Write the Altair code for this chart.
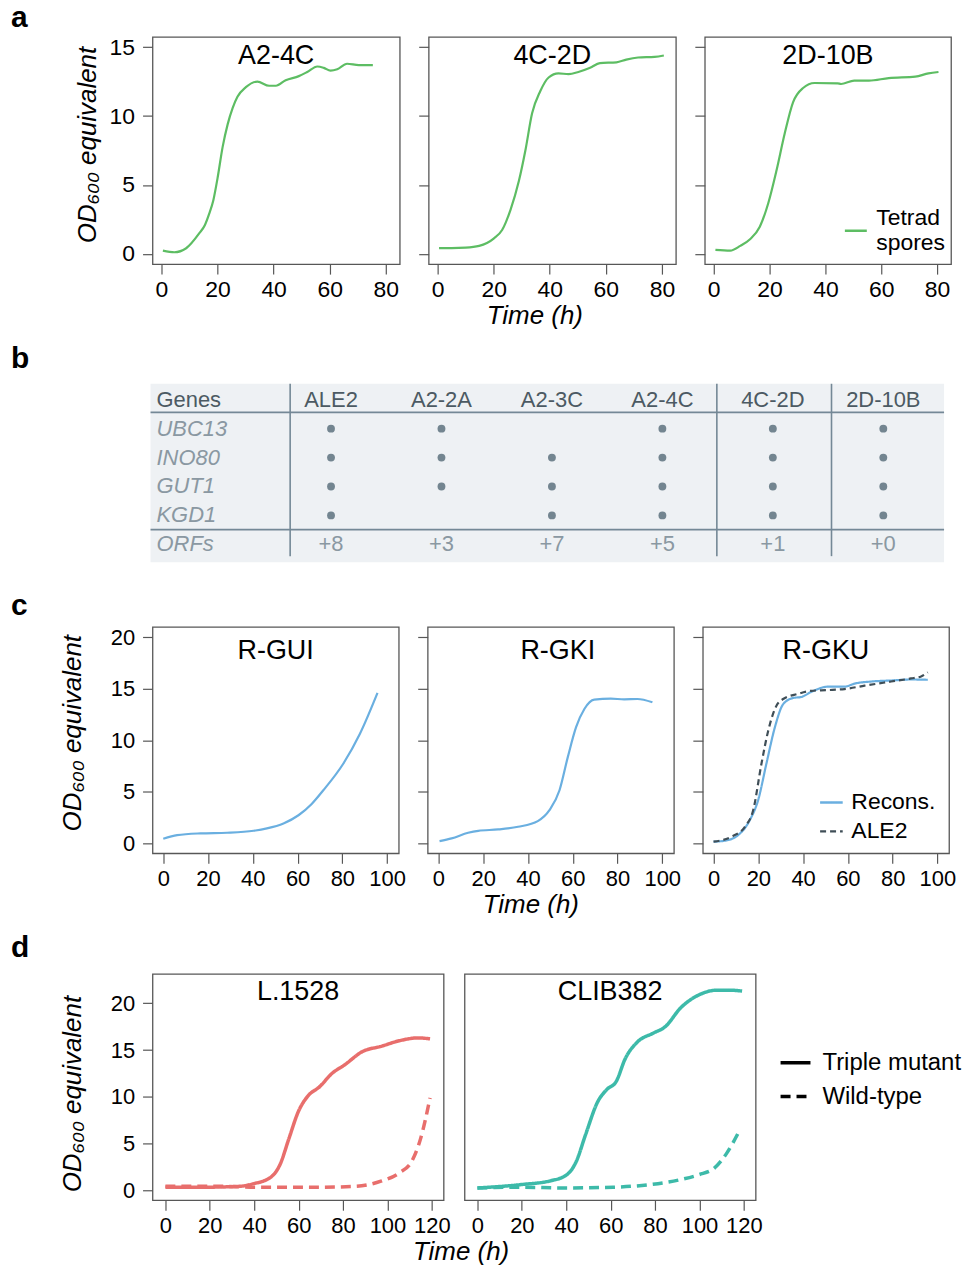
import altair as alt
import pandas as pd

FONT = "Liberation Sans"
GREEN = "#5dbd63"
BLUE = "#6aafe0"
RED = "#e86e6c"
TEAL = "#3dbaa9"
ALE_DARK = "#3f4e57"
FRAME = "#575757"
TAB_BG = "#eef1f4"
TAB_LINE = "#748896"
TAB_HEAD = "#4c5a63"
TAB_GENE = "#8a98a2"
TAB_DOT = "#738590"
YTITLE = "OD\u2086\u2080\u2080 equivalent"
XTITLE = "Time (h)"

# ---------------- panel a : tetrad spores ----------------
a_names = ["A2-4C", "4C-2D", "2D-10B"]
a1_t = [0.5, 4.6, 8.8, 13.5, 15.5, 17.0, 18.5, 20.0, 21.8, 23.6, 25.4, 27.1, 30.1, 34.2,
        38.4, 40.8, 44.3, 49.0, 52.0, 55.6, 57.9, 60.3, 62.7, 66.2, 70.4, 75.4]
a1_od = [0.24, 0.12, 0.41, 1.5, 2.1, 2.9, 3.9, 5.5, 7.75, 9.4, 10.6, 11.4, 12.1, 12.5,
         12.2, 12.2, 12.6, 12.9, 13.2, 13.6, 13.5, 13.3, 13.4, 13.8, 13.7, 13.7]
a2_t = [0.5, 5, 10, 14.8, 20.1, 23, 26, 29, 31.3, 33.7, 36.6, 39.6, 43.1, 46.7, 50.2,
        54.4, 57.9, 63.8, 67.3, 71.5, 77.4, 80.7]
a2_od = [0.42, 0.42, 0.45, 0.58, 1.13, 1.73, 3.2, 5.3, 7.5, 10.2, 11.8, 12.8, 13.1, 13.05,
         13.2, 13.5, 13.85, 13.9, 14.1, 14.25, 14.3, 14.4]
a3_t = [0.6, 5.9, 9.5, 13, 16.5, 19.5, 22.5, 25.4, 28.4, 32, 36.1, 44.4, 45.6, 50.3, 55.6,
        62.7, 72.2, 76.9, 80.5]
a3_od = [0.29, 0.24, 0.58, 1.06, 1.97, 3.66, 6.07, 8.72, 11.0, 12.04, 12.4, 12.38, 12.33,
         12.57, 12.57, 12.76, 12.86, 13.1, 13.2]
a_series = ["Tetrad spores"]

# ---------------- panel b : table ----------------
tab_cols = ["ALE2", "A2-2A", "A2-3C", "A2-4C", "4C-2D", "2D-10B"]
tab_genes = ["UBC13", "INO80", "GUT1", "KGD1"]
tab_has_UBC13 = [1, 1, 0, 1, 1, 1]
tab_has_INO80 = [1, 1, 1, 1, 1, 1]
tab_has_GUT1 = [1, 1, 1, 1, 1, 1]
tab_has_KGD1 = [1, 0, 1, 1, 1, 1]
tab_orfs = ["+8", "+3", "+7", "+5", "+1", "+0"]

# ---------------- panel c : reconstructed strains ----------------
c_names = ["R-GUI", "R-GKI", "R-GKU"]
c1_t = [0, 6.2, 16.6, 28.5, 40.4, 46.3, 53.7, 60.4, 66.3, 71.5, 80.4, 87.8, 95.7]
c1_od = [0.42, 0.77, 0.94, 1.0, 1.19, 1.42, 1.9, 2.7, 3.8, 5.13, 7.71, 10.6, 14.6]
c2_t = [0.5, 5.9, 13.3, 17.8, 26.7, 35.6, 44.4, 49.6, 54.1, 57.8, 61.5, 65.2, 69.6, 77,
        83, 88.9, 95.6]
c2_od = [0.19, 0.45, 1.0, 1.19, 1.32, 1.58, 2.13, 3.19, 5.13, 8.35, 11.26, 13.03, 13.94,
         14.03, 13.97, 14.0, 13.68]
c3_recons_t = [0, 5.1, 11, 16.2, 19.9, 23.6, 27.4, 31.1, 35.5, 39.2, 43.7, 51.1, 58.5, 63,
               70.4, 79.3, 88.2, 95.7]
c3_recons_od = [0.13, 0.23, 0.77, 2.23, 4.16, 7.71, 11.26, 13.5, 14.1, 14.2, 14.7, 15.2,
                15.2, 15.5, 15.7, 15.8, 15.9, 15.87]
c3_ale2_t = [0, 8, 14, 17.7, 21.4, 24.4, 28.1, 31.1, 37.7, 43.7, 51.1, 58.5, 67.5, 79.3,
             88.2, 92.7, 95.7]
c3_ale2_od = [0.13, 0.61, 1.58, 3.19, 7.71, 10.9, 13.35, 14.0, 14.5, 14.8, 14.87, 14.97,
              15.3, 15.7, 16.0, 16.2, 16.6]
c_series = ["Recons.", "ALE2"]

# ---------------- panel d : other backgrounds ----------------
d_names = ["L.1528", "CLIB382"]
d_types = ["Triple mutant", "Wild-type"]
d1_triple_t = [0, 17, 33.7, 39.2, 47.4, 51.6, 55.7, 59.9, 64, 69.5, 75, 80.6, 88.8, 97.1,
               105.4, 113.7, 119.2]
d1_triple_od = [0.36, 0.36, 0.46, 0.71, 1.42, 2.77, 5.6, 8.45, 10.05, 11.1, 12.5, 13.4,
                14.85, 15.4, 16.0, 16.3, 16.2]
d1_wild_t = [0, 22.6, 41.9, 69.5, 86, 97.1, 105.4, 110.9, 115, 119.2]
d1_wild_od = [0.46, 0.46, 0.36, 0.36, 0.46, 1.0, 1.9, 3.1, 5.6, 9.9]
d2_triple_t = [0, 19.6, 33.4, 40.3, 44.5, 48.7, 54.2, 58.3, 62.5, 66.6, 72.2, 79.1, 84.6,
               91.5, 99.8, 108.1, 113.6, 119.2]
d2_triple_od = [0.28, 0.64, 1.07, 1.7, 3.1, 5.97, 9.5, 10.8, 11.65, 14.1, 15.9, 16.8, 17.5,
                19.5, 20.9, 21.4, 21.4, 21.3]
d2_wild_t = [0, 19.6, 39, 61.1, 77.7, 91.5, 99.8, 106.7, 112.3, 117.8]
d2_wild_od = [0.28, 0.36, 0.28, 0.36, 0.64, 1.17, 1.7, 2.4, 4.0, 6.3]


# ---------------- helpers ----------------
def curve(t, od, series=None, key="series"):
    d = pd.DataFrame({"t": t, "od": od})
    if series is not None:
        d[key] = series
    return d


def sc(dom):
    return alt.Scale(domain=dom, nice=False, zero=False)


def xenc(dom, vals, pad, fs, tpos=None):
    kw = dict(values=vals, labelPadding=pad, labelFontSize=fs)
    if tpos is not None:
        kw.update(titleX=tpos[0], titleY=tpos[1], titleAlign="center",
                  titleBaseline="alphabetic", titleFontSize=26)
        return alt.X("t:Q", scale=sc(dom), axis=alt.Axis(**kw), title=XTITLE)
    return alt.X("t:Q", scale=sc(dom), axis=alt.Axis(**kw), title=None)


def yenc(dom, vals, mode, fs, tpos=None):
    if mode == "full":
        ax = alt.Axis(values=vals, labelPadding=8, labelFontSize=fs, titleX=tpos[0],
                      titleY=tpos[1], titleAlign="center", titleBaseline="alphabetic",
                      titleAngle=270, titleFontSize=26)
        return alt.Y("od:Q", scale=sc(dom), axis=ax, title=YTITLE)
    if mode == "ticks":
        return alt.Y("od:Q", scale=sc(dom), axis=alt.Axis(values=vals, labels=False), title=None)
    return alt.Y("od:Q", scale=sc(dom), axis=None)


def name_layer(name, x, y, fs=27):
    return alt.Chart(pd.DataFrame({"name": [name]})).mark_text(
        font=FONT, fontSize=fs, color="black", align="center", baseline="alphabetic"
    ).encode(text="name:N", x=alt.value(x), y=alt.value(y))


def letter_layer(letter, y):
    return alt.Chart(pd.DataFrame({"letter": [letter]})).mark_text(
        font=FONT, fontSize=30, fontWeight="bold", color="black", align="left",
        baseline="alphabetic"
    ).encode(text="letter:N", x=alt.value(-142), y=alt.value(y))


def legend(x, y, size, sw, fs, offset, rowpad=5, **extra):
    kw = dict(orient="none", legendX=x, legendY=y, title=None, symbolType="stroke",
              symbolSize=size, symbolStrokeWidth=sw, labelFont=FONT, labelFontSize=fs,
              labelColor="black", labelOffset=offset, rowPadding=rowpad, padding=0,
              labelLimit=400)
    kw.update(extra)
    return alt.Legend(**kw)


# ---------------- row a ----------------
A_W, A_H = 248, 228
A_XDOM, A_YDOM = [-3.2, 85.0], [-0.745, 15.75]
A_XT, A_YT = [0, 20, 40, 60, 80], [0, 5, 10, 15]

a1 = alt.layer(
    alt.Chart(curve(a1_t, a1_od)).mark_line(color=GREEN, strokeWidth=2.2, interpolate="monotone").encode(
        x=xenc(A_XDOM, A_XT, 4, 23), y=yenc(A_YDOM, A_YT, "full", 23, (-57, 108))),
    name_layer(a_names[0], A_W / 2, 27),
    letter_layer("a", -10),
).properties(width=A_W, height=A_H)

a2 = alt.layer(
    alt.Chart(curve(a2_t, a2_od)).mark_line(color=GREEN, strokeWidth=2.2, interpolate="monotone").encode(
        x=xenc(A_XDOM, A_XT, 4, 23, (106, 60)), y=yenc(A_YDOM, A_YT, "ticks", 23)),
    name_layer(a_names[1], A_W / 2, 27),
).properties(width=A_W, height=A_H)

a3 = alt.layer(
    alt.Chart(curve(a3_t, a3_od, a_series[0])).mark_line(strokeWidth=2.2, interpolate="monotone").encode(
        x=xenc(A_XDOM, A_XT, 4, 23), y=yenc(A_YDOM, A_YT, "ticks", 23),
        color=alt.Color("series:N", scale=alt.Scale(domain=a_series, range=[GREEN]),
                        legend=legend(139, 182, 484, 2.5, 23, 8,
                                      labelExpr="['Tetrad', 'spores']",
                                      labelBaseline="line-bottom"))),
    name_layer(a_names[2], 247 / 2, 27),
).properties(width=247, height=A_H)

# ---------------- row b : table ----------------
gene_has = [tab_has_UBC13, tab_has_INO80, tab_has_GUT1, tab_has_KGD1]
head_df = pd.DataFrame({"label": tab_cols, "col": list(range(1, len(tab_cols) + 1)), "row": 0})
genes_df = pd.DataFrame({"label": tab_genes + ["ORFs"], "col": -0.58,
                         "row": list(range(1, len(tab_genes) + 2))})
genes_head_df = pd.DataFrame({"label": ["Genes"], "col": [-0.58], "row": [0]})
dots_rows = []
for gi, has in enumerate(gene_has):
    for ci, h in enumerate(has):
        if h:
            dots_rows.append({"col": ci + 1, "row": gi + 1})
dots_df = pd.DataFrame(dots_rows)
orf_df = pd.DataFrame({"label": tab_orfs, "col": list(range(1, len(tab_orfs) + 1)),
                       "row": len(tab_genes) + 1})
TX = alt.Scale(domain=[-0.634, 6.55], range=[-2, 794], nice=False, zero=False)
TY = alt.Scale(domain=[-0.552, 5.62], range=[0, 179], nice=False, zero=False)
bg_df = pd.DataFrame({"x": [-0.634], "x2": [6.55], "y": [-0.552], "y2": [5.62]})
hline_df = pd.DataFrame({"y": [0.438, 4.493], "x": -0.634, "x2": 6.55})
vline_df = pd.DataFrame({"x": [0.63, 4.493, 5.531], "y": -0.552, "y2": 5.41})
TFS = 22

tab_bg = alt.Chart(bg_df).mark_rect(color=TAB_BG).encode(
    x=alt.X("x:Q", scale=TX, axis=None), x2="x2:Q",
    y=alt.Y("y:Q", scale=TY, axis=None), y2="y2:Q")
tab_h = alt.Chart(hline_df).mark_rule(color=TAB_LINE, strokeWidth=1.6).encode(
    x=alt.X("x:Q", scale=TX, axis=None), x2="x2:Q", y=alt.Y("y:Q", scale=TY, axis=None))
tab_v = alt.Chart(vline_df).mark_rule(color=TAB_LINE, strokeWidth=1.6).encode(
    x=alt.X("x:Q", scale=TX, axis=None), y=alt.Y("y:Q", scale=TY, axis=None), y2="y2:Q")
tab_head = alt.Chart(head_df).mark_text(font=FONT, fontSize=TFS, color=TAB_HEAD, align="center",
                                        baseline="middle").encode(
    x=alt.X("col:Q", scale=TX, axis=None), y=alt.Y("row:Q", scale=TY, axis=None), text="label:N")
tab_ghead = alt.Chart(genes_head_df).mark_text(font=FONT, fontSize=TFS, color=TAB_HEAD, align="left",
                                               baseline="middle").encode(
    x=alt.X("col:Q", scale=TX, axis=None), y=alt.Y("row:Q", scale=TY, axis=None), text="label:N")
tab_genes_t = alt.Chart(genes_df).mark_text(font=FONT, fontSize=TFS, color=TAB_GENE, align="left",
                                            baseline="middle", fontStyle="italic").encode(
    x=alt.X("col:Q", scale=TX, axis=None), y=alt.Y("row:Q", scale=TY, axis=None), text="label:N")
tab_dots = alt.Chart(dots_df).mark_circle(color=TAB_DOT, size=62, opacity=1).encode(
    x=alt.X("col:Q", scale=TX, axis=None), y=alt.Y("row:Q", scale=TY, axis=None))
tab_orf = alt.Chart(orf_df).mark_text(font=FONT, fontSize=TFS, color=TAB_GENE, align="center",
                                      baseline="middle").encode(
    x=alt.X("col:Q", scale=TX, axis=None), y=alt.Y("row:Q", scale=TY, axis=None), text="label:N")

table = alt.layer(tab_bg, tab_h, tab_v, tab_head, tab_ghead, tab_genes_t, tab_dots, tab_orf,
                  letter_layer("b", -16)).properties(
    width=794, height=193, view=alt.ViewBackground(stroke="transparent", strokeOpacity=0))

# ---------------- row c ----------------
C_W, C_H = 247, 227
C_XDOM, C_YDOM = [-4.8, 105.2], [-1.0, 21.0]
C_XT, C_YT = [0, 20, 40, 60, 80, 100], [0, 5, 10, 15, 20]

c1 = alt.layer(
    alt.Chart(curve(c1_t, c1_od)).mark_line(color=BLUE, strokeWidth=2.2, interpolate="monotone").encode(
        x=xenc(C_XDOM, C_XT, 5, 22), y=yenc(C_YDOM, C_YT, "full", 22, (-72, 106))),
    name_layer(c_names[0], C_W / 2, 32),
    letter_layer("c", -12),
).properties(width=C_W, height=C_H)

c2 = alt.layer(
    alt.Chart(curve(c2_t, c2_od)).mark_line(color=BLUE, strokeWidth=2.2, interpolate="monotone").encode(
        x=xenc(C_XDOM, C_XT, 5, 22, (103, 59)), y=yenc(C_YDOM, C_YT, "ticks", 22)),
    name_layer(c_names[1], C_W / 2 + 7, 32),
).properties(width=C_W, height=C_H)

c3_df = pd.concat([curve(c3_recons_t, c3_recons_od, c_series[0]),
                   curve(c3_ale2_t, c3_ale2_od, c_series[1])])
c_leg = legend(116, 163, 515, 2.4, 23, 7, rowpad=4)
c3 = alt.layer(
    alt.Chart(c3_df).mark_line(strokeWidth=2.2, interpolate="monotone").encode(
        x=xenc(C_XDOM, C_XT, 5, 22), y=yenc(C_YDOM, C_YT, "ticks", 22),
        color=alt.Color("series:N", scale=alt.Scale(domain=c_series, range=[BLUE, ALE_DARK]),
                        legend=c_leg),
        strokeDash=alt.StrokeDash("series:N", scale=alt.Scale(domain=c_series, range=[[1, 0], [6, 4]]),
                                  legend=c_leg)),
    name_layer(c_names[2], C_W / 2, 32),
).properties(width=C_W, height=C_H)

# ---------------- row d ----------------
D_W, D_H = 292, 227
D_XDOM, D_YDOM = [-5.8, 125.3], [-1.03, 23.13]
D_XT, D_YT = [0, 20, 40, 60, 80, 100, 120], [0, 5, 10, 15, 20]

d1_df = pd.concat([curve(d1_triple_t, d1_triple_od, d_types[0], "type"),
                   curve(d1_wild_t, d1_wild_od, d_types[1], "type")])
d2_df = pd.concat([curve(d2_triple_t, d2_triple_od, d_types[0], "type"),
                   curve(d2_wild_t, d2_wild_od, d_types[1], "type")])
d_dash = alt.Scale(domain=d_types, range=[[1, 0], [10, 6]])

d1 = alt.layer(
    alt.Chart(d1_df).mark_line(color=RED, strokeWidth=3.5, interpolate="monotone").encode(
        x=xenc(D_XDOM, D_XT, 5, 22, (309, 59)), y=yenc(D_YDOM, D_YT, "full", 22, (-72, 120)),
        strokeDash=alt.StrokeDash("type:N", scale=d_dash, legend=None)),
    name_layer(d_names[0], D_W / 2, 26),
    letter_layer("d", -17),
).properties(width=D_W, height=D_H)

d2 = alt.layer(
    alt.Chart(d2_df).mark_line(color=TEAL, strokeWidth=3.5, interpolate="monotone").encode(
        x=xenc(D_XDOM, D_XT, 5, 22), y=yenc(D_YDOM, D_YT, "none", 22),
        strokeDash=alt.StrokeDash("type:N", scale=d_dash,
                                  legend=legend(315, 72, 900, 3.5, 24, 10,
                                                symbolStrokeColor="black"))),
    name_layer(d_names[1], D_W / 2, 26),
).properties(width=D_W, height=D_H)

# ---------------- assemble ----------------
IND = dict(color="independent", strokeDash="independent")
row_a = alt.hconcat(a1, a2, a3, spacing=29, bounds="flush").resolve_scale(**IND)
row_c = alt.hconcat(c1, c2, c3, spacing=29, bounds="flush").resolve_scale(**IND)
row_d = alt.hconcat(d1, d2, spacing=21, bounds="flush").resolve_scale(**IND)

chart = alt.vconcat(row_a, table, row_c, row_d, spacing=14).resolve_scale(
    **IND
).properties(
    padding={"left": 10, "top": 0, "right": 0, "bottom": 0},
    background="white",
).configure_view(
    stroke=FRAME, strokeWidth=1.3
).configure_axis(
    domain=False, grid=False, tickColor=FRAME, tickWidth=1.2, tickSize=10,
    labelFont=FONT, labelColor="black", labelOverlap=False,
    titleFont=FONT, titleFontStyle="italic", titleFontWeight="normal", titleColor="black",
)

chart.save("out.html", embed_options={"renderer": "svg", "actions": False})
